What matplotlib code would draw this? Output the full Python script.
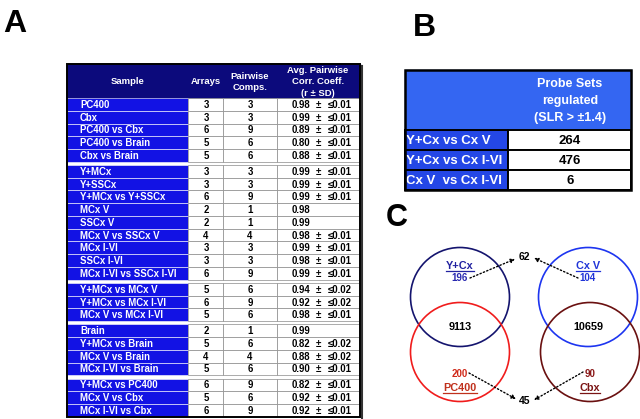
import matplotlib
matplotlib.use('Agg')
import matplotlib.pyplot as plt
from matplotlib.patches import Rectangle, Circle

plt.rcParams['font.family'] = ['Liberation Sans', 'DejaVu Sans']

# ---- panel A data ----
samples = [
    ['PC400', 'Cbx', 'PC400 vs Cbx', 'PC400 vs Brain', 'Cbx vs Brain'],
    ['Y+MCx', 'Y+SSCx', 'Y+MCx vs Y+SSCx', 'MCx V', 'SSCx V', 'MCx V vs SSCx V',
     'MCx I-VI', 'SSCx I-VI', 'MCx I-VI vs SSCx I-VI'],
    ['Y+MCx vs MCx V', 'Y+MCx vs MCx I-VI', 'MCx V vs MCx I-VI'],
    ['Brain', 'Y+MCx vs Brain', 'MCx V vs Brain', 'MCx I-VI vs Brain'],
    ['Y+MCx vs PC400', 'MCx V vs Cbx', 'MCx I-VI vs Cbx'],
]
arrays = [[3, 3, 6, 5, 5], [3, 3, 6, 2, 2, 4, 3, 3, 6], [5, 6, 5], [2, 5, 4, 5], [6, 5, 6]]
comps = [[3, 3, 9, 6, 6], [3, 3, 9, 1, 1, 4, 3, 3, 9], [6, 9, 6], [1, 6, 4, 6], [9, 6, 9]]
corr = [[0.98, 0.99, 0.89, 0.80, 0.88],
        [0.99, 0.99, 0.99, 0.98, 0.99, 0.98, 0.99, 0.98, 0.99],
        [0.94, 0.92, 0.98], [0.99, 0.82, 0.88, 0.90], [0.82, 0.92, 0.92]]
sd = [[0.01] * 5,
      [0.01, 0.01, 0.01, None, None, 0.01, 0.01, 0.01, 0.01],
      [0.02, 0.02, 0.01], [None, 0.02, 0.02, 0.01], [0.01, 0.01, 0.01]]
headers_a = ['Sample', 'Arrays', 'Pairwise\nComps.', 'Avg. Pairwise\nCorr. Coeff.\n(r \u00b1 SD)']

# ---- panel B data ----
comparisons = ['Y+Cx vs Cx V', 'Y+Cx vs Cx I-VI', 'Cx V  vs Cx I-VI']
probe_sets = [264, 476, 6]
header_b = 'Probe Sets\nregulated\n(SLR > \u00b11.4)'

# ---- panel C data ----
set_names = ['Y+Cx', 'PC400', 'Cx V', 'Cbx']
set_unique = [196, 200, 104, 90]
overlaps = [9113, 10659]
shared = [62, 45]

NAVY = '#0c0a7c'
BLUE = '#1212e4'
BLUE_B = '#2447e6'
HEAD_B = '#3466f2'

fig = plt.figure(figsize=(6.4, 4.19), dpi=100)
ax = fig.add_axes([0, 0, 1, 1])
ax.set_xlim(0, 640)
ax.set_ylim(419, 0)
ax.axis('off')

bold = dict(fontweight='bold')

# ---------------- panel A ----------------
ax.text(3, 32, 'A', fontsize=23, **bold, va='baseline')
xe = [67, 188, 223, 277, 360]
top, head_h, rh, gap = 64, 34, 12.75, 3.2
ax.add_patch(Rectangle((xe[0], top), xe[-1] - xe[0], head_h, color=NAVY, zorder=1))
hx = [128, 206, 250, 318]
for x, h in zip(hx, headers_a):
    ax.text(x, top + head_h / 2 + 1, h, color='white', fontsize=6.8, ha='center',
            va='center', linespacing=1.3, **bold)
y = top + head_h
for g in range(len(samples)):
    if g > 0:
        y += gap
    for i, name in enumerate(samples[g]):
        ax.add_patch(Rectangle((xe[0], y), xe[1] - xe[0], rh, facecolor=BLUE,
                               edgecolor='white', lw=0.4, zorder=1))
        for c in range(1, 4):
            ax.add_patch(Rectangle((xe[c], y), xe[c + 1] - xe[c], rh, facecolor='white',
                                   edgecolor='#8a8a8a', lw=0.5, zorder=1))
        yc = y + rh / 2 + 0.5
        ax.text(80, yc, name, color='white', fontsize=6.9, va='center', **bold)
        ax.text(206, yc, str(arrays[g][i]), fontsize=6.9, ha='center', va='center', **bold)
        ax.text(250, yc, str(comps[g][i]), fontsize=6.9, ha='center', va='center', **bold)
        ax.text(292, yc, f'{corr[g][i]:.2f}', fontsize=6.9, va='center', **bold)
        if sd[g][i] is not None:
            ax.text(318, yc, '\u00b1', fontsize=6.9, ha='center', va='center', **bold)
            ax.text(352, yc, f'\u2264{sd[g][i]:.2f}', fontsize=6.9, ha='right',
                    va='center', **bold)
        y += rh
ax.add_patch(Rectangle((xe[0], top), xe[-1] - xe[0], y - top, fill=False,
                       edgecolor='black', lw=1.4, zorder=3))
ax.plot([xe[-1] + 1.5, xe[-1] + 1.5], [top + 2, y + 1.5], color='#333333', lw=1.5, zorder=3)

# ---------------- panel B ----------------
ax.text(413, 36, 'B', fontsize=23, **bold, va='baseline')
bx0, bx1, bx2 = 405, 508, 631
btop, bhead, brh = 70, 60, 20
ax.add_patch(Rectangle((bx0, btop), bx2 - bx0, bhead, color=HEAD_B, zorder=1))
ax.text(570, btop + bhead / 2 + 1, header_b, color='white', fontsize=9, ha='center',
        va='center', linespacing=1.55, **bold)
for i, (lab, val) in enumerate(zip(comparisons, probe_sets)):
    yb = btop + bhead + i * brh
    ax.add_patch(Rectangle((bx0, yb), bx1 - bx0, brh, facecolor=BLUE_B,
                           edgecolor='black', lw=1.4, zorder=2))
    ax.add_patch(Rectangle((bx1, yb), bx2 - bx1, brh, facecolor='white',
                           edgecolor='black', lw=1.4, zorder=2))
    ax.text(bx0 + 1.5, yb + brh / 2 + 0.5, lab, color='white', fontsize=9.5, va='center',
            **bold)
    ax.text(570, yb + brh / 2 + 0.5, str(val), fontsize=9.5, ha='center', va='center',
            **bold)
ax.add_patch(Rectangle((bx0, btop), bx2 - bx0, bhead + 3 * brh, fill=False,
                       edgecolor='black', lw=1.8, zorder=3))

# ---------------- panel C ----------------
ax.text(386, 226, 'C', fontsize=22, **bold, va='baseline')
centers = [(460, 297), (460, 352), (588, 297), (590, 352)]
ring_cols = ['#14146e', '#f01c1c', '#1d35f0', '#6a1010']
label_cols = ['#2222a0', '#c0301c', '#2034d8', '#7a1414']
num_cols = ['#2828b0', '#d02a1a', '#2034d8', '#8a1818']
for (cx, cy), col in zip(centers, ring_cols):
    ax.add_patch(Circle((cx, cy), 49.5, fill=False, edgecolor=col, lw=1.2, zorder=2))

label_y = [266, 388, 266, 388]
num_y = [278, 374, 278, 374]
name_texts = []
for k in range(4):
    cx = centers[k][0]
    t = ax.text(cx, label_y[k], set_names[k], color=label_cols[k], fontsize=7.8,
                ha='center', va='center', **bold)
    name_texts.append((t, label_cols[k]))
    ax.text(cx, num_y[k], str(set_unique[k]), color=num_cols[k], fontsize=7,
            ha='center', va='center', **bold)
ax.text(460, 327, str(overlaps[0]), fontsize=7.8, ha='center', va='center', **bold)
ax.text(588, 327, str(overlaps[1]), fontsize=7.8, ha='center', va='center', **bold)
ax.text(524, 257, str(shared[0]), fontsize=7.5, ha='center', va='center', **bold)
ax.text(525, 401, str(shared[1]), fontsize=7.5, ha='center', va='center', **bold)

arrow = dict(arrowstyle='-|>', color='black', lw=1.0, linestyle=(0, (1, 1.6)),
             mutation_scale=6, shrinkA=0, shrinkB=0)
for start, end in [((470, 278), (515, 259)), ((578, 278), (534, 258)),
                   ((469, 373), (516, 399)), ((583, 372), (534, 400))]:
    ax.annotate('', xy=end, xytext=start, arrowprops=arrow)

# underline the set names
fig.canvas.draw()
inv = ax.transData.inverted()
renderer = fig.canvas.get_renderer()
for t, col in name_texts:
    bb = t.get_window_extent(renderer)
    (x0, y0), (x1, y1) = inv.transform([(bb.x0, bb.y0), (bb.x1, bb.y1)])
    ax.plot([x0, x1], [y0 - 0.3, y0 - 0.3], color=col, lw=0.9)

fig.savefig('out.png', dpi=100)
